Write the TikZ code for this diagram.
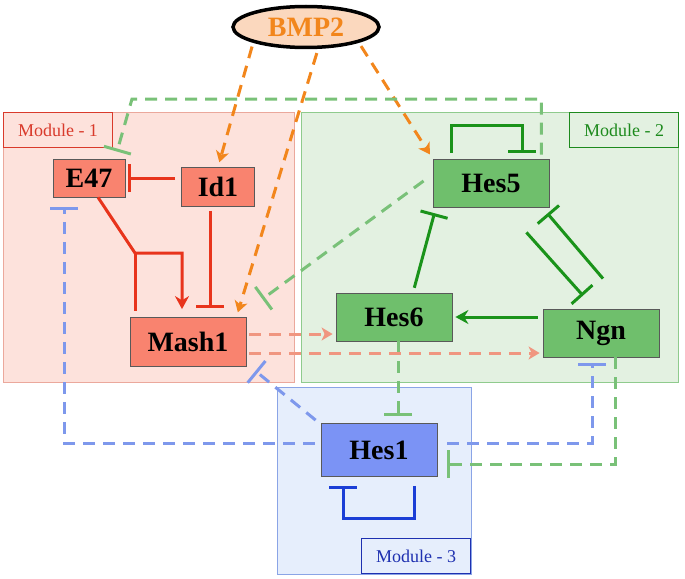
\documentclass[tikz,border=0pt]{standalone}
\usepackage{fontspec}
\setmainfont{Liberation Serif}
\usetikzlibrary{arrows.meta, shapes.geometric}

\definecolor{modonefill}{HTML}{FDE2DC}
\definecolor{modoneline}{HTML}{EBA89C}
\definecolor{labone}{HTML}{D93A2B}
\definecolor{modtwofill}{HTML}{E3F1E1}
\definecolor{modtwoline}{HTML}{8FCB8D}
\definecolor{labtwo}{HTML}{1D8A1D}
\definecolor{modthreefill}{HTML}{E6EEFC}
\definecolor{modthreeline}{HTML}{8AA4E6}
\definecolor{labthree}{HTML}{1E30B0}
\definecolor{redgene}{HTML}{F9836F}
\definecolor{greengene}{HTML}{6FBF6C}
\definecolor{bluegene}{HTML}{7B93F5}
\definecolor{redline}{HTML}{E8341C}
\definecolor{greenline}{HTML}{1A931A}
\definecolor{greendash}{HTML}{79C178}
\definecolor{bluedash}{HTML}{7E98EC}
\definecolor{blueline}{HTML}{1B3ED6}
\definecolor{orangedash}{HTML}{F2861C}
\definecolor{salmondash}{HTML}{F09680}
\definecolor{bmpfill}{HTML}{FBD8BE}

\begin{document}
\begin{tikzpicture}[x=1pt, y=-1pt, line width=3pt,
    gene/.style={draw=black!65, line width=0.8pt, minimum width=116pt, minimum height=48pt, inner sep=0pt, font=\bfseries\fontsize{28}{30}\selectfont},
    modlabel/.style={draw, line width=1pt, minimum width=109pt, minimum height=35pt, inner sep=0pt, anchor=north west, font=\fontsize{18}{20}\selectfont},
    act/.style={-{Stealth[length=13pt, width=14pt]}},
    dact/.style={-{Stealth[length=11pt, width=13pt, inset=3pt]}},
    inh/.style={-{Bar[width=28pt]}},
    dashline/.style={dash pattern=on 12pt off 8pt}]
    \useasboundingbox (0,0) rectangle (685,578);

    % Modules
    \draw[modoneline, fill=modonefill, line width=1pt] (3,112) rectangle (294,382);
    \draw[modtwoline, fill=modtwofill, line width=1pt] (301,112) rectangle (678,382);
    \draw[modthreeline, fill=modthreefill, line width=1pt] (277,387) rectangle (471,574);
    \node[modlabel, draw=labone, text=labone] (m1) at (3,112) {Module - 1};
    \node[modlabel, draw=labtwo, text=labtwo] (m2) at (569,112) {Module - 2};
    \node[modlabel, draw=labthree, text=labthree, anchor=south east] (m3) at (471,574) {Module - 3};

    % Nodes
    \node[ellipse, draw=black, line width=3.5pt, fill=bmpfill, minimum width=146pt, minimum height=41pt, text=orangedash, font=\bfseries\fontsize{28}{30}\selectfont] (bmp) at (306,27) {BMP2};
    \node[gene, fill=redgene, minimum width=72pt, minimum height=38pt] (e47) at (89,178) {E47};
    \node[gene, fill=redgene, minimum width=73pt, minimum height=39pt] (id1) at (218,187) {Id1};
    \node[gene, fill=redgene, minimum height=49pt] (mash1) at (188,342) {Mash1};
    \node[gene, fill=greengene] (hes5) at (491,183) {Hes5};
    \node[gene, fill=greengene] (hes6) at (394,317) {Hes6};
    \node[gene, fill=greengene] (ngn) at (601,333) {Ngn};
    \node[gene, fill=bluegene, minimum height=53pt] (hes1) at (379,450) {Hes1};
    \coordinate (j) at (135,253);
    \coordinate (c1) at (132,99);

    % BMP2 signalling
    \begin{scope}[orangedash, dashline, dact, shorten <=4pt, shorten >=5pt]
        \draw (bmp.south west) -- (id1.north);
        \draw ([xshift=12pt]bmp.south) -- ([xshift=-10pt]mash1.north east);
        \draw (bmp.south east) -- (hes5.north west);
    \end{scope}

    % Module 1
    \draw[redline, act, shorten >=8pt] ([xshift=9pt]e47.south) -- (j) -| ([xshift=-6pt]mash1.north);
    \draw[redline, shorten >=6pt] (j) -- (j |- mash1.north);
    \draw[redline, inh, shorten <=6pt, shorten >=3pt] (id1.west |- e47) -- (e47.east);
    \draw[redline, inh, shorten <=4pt, shorten >=9pt] ([xshift=-8pt]id1.south) -- ([xshift=-8pt]id1.south |- mash1.north);

    % Module 2
    \draw[greenline, inh, shorten <=6pt, shorten >=6pt] ([xshift=-40pt]hes5.north) -- ++(0,-33) -| ([xshift=31pt]hes5.north);
    \draw[greenline, inh, shorten <=5pt, shorten >=6pt] ([xshift=19pt]hes6.north) -- ([xshift=-55pt]hes5.south);
    \draw[greenline, inh] ([shift={(2,-30)}]ngn.north) -- ([shift={(-2,6)}]hes5.south east);
    \draw[greenline, inh] ([shift={(-23,25)}]hes5.south east) -- ([shift={(-18,-13)}]ngn.north);
    \draw[greenline, act, shorten <=5pt, shorten >=3pt] (ngn.west |- hes6.east) -- (hes6.east);

    % Cross-module links
    \begin{scope}[greendash, dashline, inh]
        \draw[shorten <=4pt] ([xshift=-8pt]hes5.north east) |- (c1) -- ([xshift=28pt,yshift=7pt]e47.north);
        \draw[shorten <=5pt] ([shift={(-5,-5)}]hes5.west) -- ([shift={(16,-18)}]mash1.north east);
        \draw[shorten >=7pt] ([xshift=4pt]hes6.south) -- ([xshift=4pt]hes6.south |- hes1.north);
        \draw ([xshift=14pt]ngn.south) |- ([shift={(10,14)}]hes1.east);
    \end{scope}
    \begin{scope}[salmondash, dashline, dact, shorten <=3pt, shorten >=3pt]
        \draw ([shift={(0,-8)}]mash1.east) -- ([shift={(0,17)}]hes6.west);
        \draw ([shift={(0,11)}]mash1.east) -- ([shift={(0,20)}]ngn.west);
    \end{scope}
    \begin{scope}[bluedash, dashline, inh]
        \draw[shorten <=10pt] ([shift={(0,-7)}]hes1.east) -| ([shift={(-9,6)}]ngn.south);
        \draw[shorten <=6pt] ([shift={(0,-7)}]hes1.west) -| ([shift={(-25,10)}]e47.south);
        \draw ([shift={(-5,-3)}]hes1.north west) -- ([shift={(9,4)}]mash1.south east);
    \end{scope}

    % Module 3
    \draw[blueline, inh, shorten <=9pt, shorten >=9pt] ([xshift=35pt]hes1.south) -- ++(0,42) -| ([xshift=-36pt]hes1.south);
\end{tikzpicture}
\end{document}
